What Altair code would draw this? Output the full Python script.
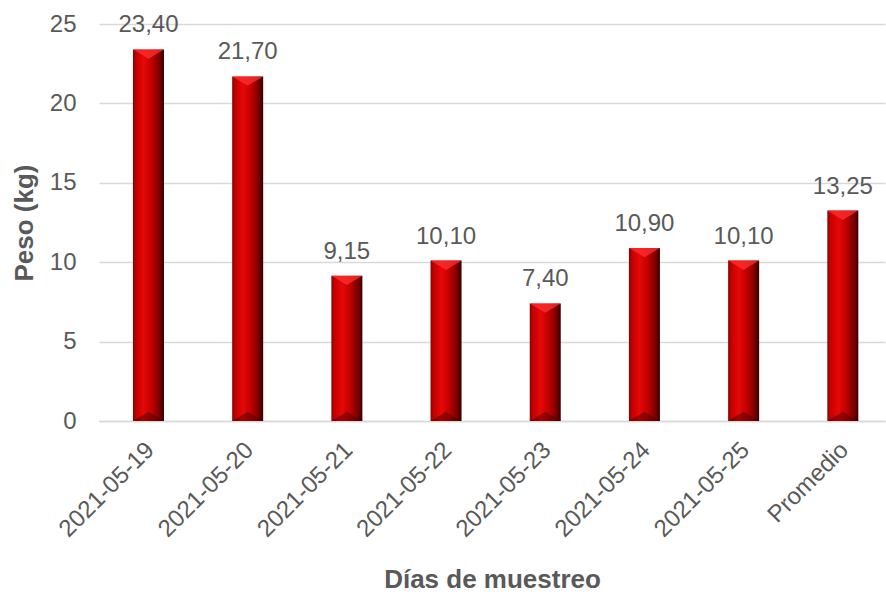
import altair as alt
import pandas as pd

# Daily sample weights (kg) plus the average
dias = ["2021-05-19", "2021-05-20", "2021-05-21", "2021-05-22",
        "2021-05-23", "2021-05-24", "2021-05-25", "Promedio"]
peso = [23.40, 21.70, 9.15, 10.10, 7.40, 10.90, 10.10, 13.25]

df = pd.DataFrame({"dia": dias, "peso": peso})
df["etiqueta"] = [f"{v:.2f}".replace(".", ",") for v in peso]
df["base"] = 0.0

TEXT = "#595959"
FONT = "Liberation Sans"
BAR_W = 31

x_enc = alt.X(
    "dia:N",
    sort=dias,
    scale=alt.Scale(paddingInner=0.69, paddingOuter=0.307, align=0.56),
    axis=alt.Axis(
        title="Días de muestreo",
        labelAngle=-45,
        labelAlign="right",
        labelBaseline="middle",
        labelOffset=2,
        labelPadding=25,
        labelFontSize=24,
        labelColor=TEXT,
        labelFont=FONT,
        ticks=False,
        domainColor="#d9d9d9",
        domainWidth=1.5,
        titleFontSize=26,
        titleFontWeight="bold",
        titleColor=TEXT,
        titleFont=FONT,
        titleY=166,
        titleBaseline="alphabetic",
    ),
)

y_scale = alt.Scale(domain=[0, 25], nice=False)

# Bars with a horizontal cylinder-like shading
bars = alt.Chart(df).mark_bar(
    size=BAR_W,
    color=alt.Gradient(
        gradient="linear",
        x1=0, x2=1, y1=0, y2=0,
        stops=[
            alt.GradientStop(offset=0.0, color="#8a0000"),
            alt.GradientStop(offset=0.1, color="#c40000"),
            alt.GradientStop(offset=0.35, color="#e50808"),
            alt.GradientStop(offset=0.6, color="#c20000"),
            alt.GradientStop(offset=0.85, color="#7a0000"),
            alt.GradientStop(offset=1.0, color="#380000"),
        ],
    ),
).encode(
    x=x_enc,
    y=alt.Y(
        "peso:Q",
        scale=y_scale,
        axis=alt.Axis(
            title="Peso (kg)",
            values=[0, 5, 10, 15, 20, 25],
            labelFontSize=24,
            labelColor=TEXT,
            labelFont=FONT,
            labelPadding=23,
            ticks=False,
            domain=False,
            grid=True,
            gridColor="#d9d9d9",
            gridWidth=1.5,
            titleFontSize=26,
            titleFontWeight="bold",
            titleColor=TEXT,
            titleFont=FONT,
            titleAngle=-90,
            titleX=-75,
            titleY=198.5,
            titleAlign="center",
            titleBaseline="middle",
        ),
    ),
)

# Bevel highlight on top of each bar
bevel_top = alt.Chart(df).mark_point(
    shape="M -1 0 L 1 0 L 0 0.6 Z",
    size=BAR_W * BAR_W,
    filled=True,
    color="#ff3030",
    opacity=0.75,
    strokeWidth=0,
).encode(
    x=alt.X("dia:N", sort=dias),
    y=alt.Y("peso:Q", scale=y_scale),
)

# Shadow at the base of each bar
bevel_bottom = alt.Chart(df).mark_point(
    shape="M -1 0 L 1 0 L 0 -0.6 Z",
    size=BAR_W * BAR_W,
    filled=True,
    color="#400000",
    opacity=0.45,
    strokeWidth=0,
).encode(
    x=alt.X("dia:N", sort=dias),
    y=alt.Y("base:Q", scale=y_scale),
)

labels = alt.Chart(df).mark_text(
    dy=-17,
    baseline="alphabetic",
    fontSize=24,
    color=TEXT,
    font=FONT,
).encode(
    x=alt.X("dia:N", sort=dias),
    y=alt.Y("peso:Q", scale=y_scale),
    text="etiqueta:N",
)

chart = (
    alt.layer(bars, bevel_top, bevel_bottom, labels)
    .properties(
        width=786,
        height=397,
        autosize=alt.AutoSizeParams(type="none"),
        padding={"left": 99, "top": 24, "right": 1, "bottom": 176},
        background="white",
    )
    .configure_view(stroke=None)
)

chart.save("out.html", embed_options={"renderer": "svg", "actions": False})
